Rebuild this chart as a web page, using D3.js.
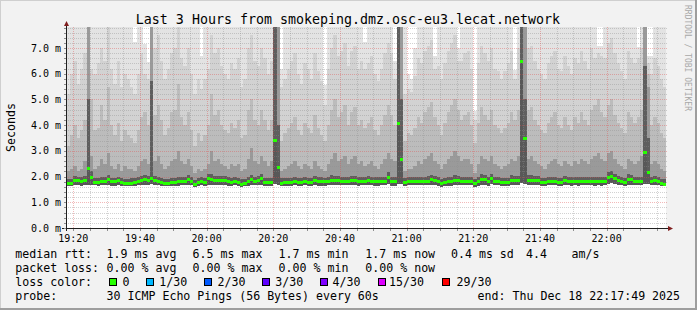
<!DOCTYPE html>
<html>
<head>
<meta charset="utf-8">
<script src="https://cdn.jsdelivr.net/npm/d3@7"></script>
<style>
  body { margin: 0; background: #fff; }
  svg text { font-family: "DejaVu Sans Mono", monospace; fill: #000; }
</style>
</head>
<body>
<div id="chart"></div>
<script>
// ---- data ----
const title = 'Last 3 Hours from smokeping.dmz.osc-eu3.lecat.network';
const startTime = new Date(2025, 11, 18, 19, 17, 49);
const endTime = new Date(2025, 11, 18, 22, 17, 49);
const firstStep = new Date(2025, 11, 18, 19, 18, 0);
const stepSeconds = 60;

// median rtt per minute (ms)
const median = [
  1.72,1.72,1.84,1.83,1.81,1.84,2.33,1.98,1.78,1.78,
  1.82,1.82,1.88,1.79,1.79,1.83,1.76,1.74,1.74,1.75,
  1.78,1.80,1.85,1.90,1.86,1.94,1.84,1.82,1.78,1.74,
  1.74,1.77,1.77,1.79,1.80,1.82,1.87,1.80,1.70,1.78,
  1.79,1.77,1.93,1.90,1.84,1.84,1.83,1.83,1.80,1.78,
  1.80,1.78,1.71,1.72,1.79,1.87,1.82,1.84,1.91,1.77,
  1.76,1.76,3.42,2.36,1.75,1.78,1.78,1.78,1.79,1.78,
  1.78,1.79,1.77,1.78,1.84,1.79,1.79,1.79,1.80,1.86,
  1.85,1.83,1.82,1.82,1.81,1.83,1.85,1.79,1.80,1.82,
  1.83,1.82,1.80,1.80,1.81,1.82,1.96,1.80,1.80,4.07,
  2.65,1.76,1.82,1.82,1.81,1.82,1.81,1.82,1.82,1.89,
  1.83,1.80,1.73,1.78,1.79,1.80,1.86,1.85,1.81,1.82,
  1.82,1.81,1.73,1.80,1.90,1.88,1.80,1.93,1.81,1.81,
  1.76,1.76,1.77,1.86,1.85,1.84,6.47,3.49,1.86,1.86,
  1.84,1.83,1.78,1.78,1.81,1.81,1.82,1.78,1.78,1.83,
  1.80,1.79,1.80,1.79,1.81,1.81,1.82,1.81,1.79,1.80,
  1.79,1.80,1.97,2.02,1.93,1.83,1.82,1.76,1.90,1.89,
  1.81,1.80,1.81,2.95,2.17,1.80,1.83,1.82,1.72,1.71
];

// smoke: fastest ping per minute (ms)
const pingMin = [
  1.64,1.63,1.66,1.66,1.65,1.67,1.68,1.67,1.66,1.65,
  1.66,1.66,1.68,1.65,1.65,1.66,1.64,1.63,1.63,1.64,
  1.65,1.66,1.67,1.69,1.68,1.70,1.67,1.66,1.65,1.63,
  1.63,1.64,1.64,1.65,1.66,1.66,1.68,1.66,1.61,1.65,
  1.66,1.65,1.69,1.69,1.67,1.67,1.66,1.66,1.65,1.65,
  1.66,1.65,1.61,1.62,1.65,1.68,1.66,1.67,1.69,1.64,
  1.64,1.64,1.70,1.68,1.63,1.65,1.65,1.65,1.66,1.65,
  1.65,1.66,1.64,1.65,1.67,1.65,1.65,1.65,1.66,1.68,
  1.68,1.67,1.66,1.66,1.66,1.67,1.68,1.65,1.66,1.66,
  1.67,1.66,1.65,1.65,1.66,1.66,1.70,1.65,1.65,1.72,
  1.70,1.64,1.66,1.66,1.66,1.66,1.66,1.66,1.66,1.69,
  1.67,1.65,1.61,1.64,1.65,1.65,1.68,1.68,1.66,1.66,
  1.66,1.66,1.61,1.65,1.69,1.68,1.65,1.70,1.66,1.66,
  1.64,1.64,1.64,1.68,1.68,1.67,1.75,1.72,1.68,1.68,
  1.67,1.67,1.65,1.65,1.66,1.66,1.66,1.65,1.65,1.67,
  1.66,1.65,1.66,1.65,1.66,1.66,1.66,1.66,1.65,1.66,
  1.65,1.66,1.72,1.74,1.70,1.67,1.66,1.64,1.69,1.69,
  1.66,1.66,1.66,1.72,1.70,1.66,1.67,1.66,1.62,1.62
];

// smoke: upper ping levels per minute (ms), from dense to sparse
const smokeQ1 = [
  1.90,1.90,2.02,2.00,1.98,2.03,5.00,2.20,1.95,1.96,
  2.00,2.00,2.06,1.96,1.96,2.00,1.93,1.91,1.92,1.93,
  1.95,1.98,2.03,2.08,2.04,5.70,2.02,2.00,1.96,1.92,
  1.92,1.95,1.95,1.98,1.98,2.00,2.05,1.98,1.88,1.96,
  1.97,1.95,2.12,2.10,2.02,2.02,2.01,2.01,1.98,1.96,
  1.98,1.96,1.89,1.90,1.97,2.06,2.00,2.02,2.10,1.95,
  1.94,1.95,8.00,4.00,1.93,1.96,1.96,1.96,1.97,1.96,
  1.96,1.97,1.95,1.96,2.02,1.97,1.97,1.96,1.98,2.05,
  2.04,2.01,2.00,2.00,1.99,2.01,2.04,1.97,1.98,2.00,
  2.01,2.00,1.98,1.98,1.99,2.00,2.16,1.99,1.98,8.00,
  5.00,1.94,2.00,2.00,1.99,2.00,1.99,2.00,2.01,2.08,
  2.01,1.98,1.91,1.96,1.98,1.99,2.05,2.04,1.99,2.00,
  2.00,1.99,1.91,1.98,2.09,2.07,1.98,2.12,1.99,1.99,
  1.94,1.94,1.95,2.05,2.04,2.03,8.00,5.00,2.05,2.05,
  2.02,2.01,1.96,1.96,1.99,1.99,2.00,1.96,1.96,2.01,
  1.98,1.97,1.98,1.97,1.99,1.99,2.00,1.99,1.97,1.98,
  1.97,1.98,2.16,2.21,2.12,2.01,2.00,1.94,2.09,2.08,
  1.99,1.98,2.00,6.30,3.50,1.98,2.01,2.00,1.90,1.89
];
const smokeQ2 = [
  2.2,2.3,2.4,2.2,2.3,2.6,8.0,2.8,2.3,2.4,
  2.7,2.5,2.9,2.4,2.3,2.5,2.2,2.4,2.3,2.3,
  2.2,2.4,2.6,2.7,2.5,8.0,2.6,2.8,2.5,2.3,
  2.4,2.6,2.7,3.0,2.6,2.5,2.7,2.4,2.15,2.3,
  2.2,2.3,2.5,3.0,2.6,2.7,2.5,2.4,2.3,2.5,
  2.4,2.5,2.2,2.3,2.7,3.1,2.6,2.5,2.8,2.6,
  2.4,2.6,8.0,8.0,2.2,2.3,2.4,2.5,2.6,2.4,
  2.3,2.5,2.4,2.3,2.6,2.4,2.3,2.2,2.5,2.7,
  2.9,2.6,2.7,2.8,2.5,2.7,2.8,2.5,2.6,2.4,
  2.5,2.6,2.4,2.3,2.5,2.7,2.9,2.7,2.6,8.0,
  8.0,2.2,2.3,2.3,2.4,2.6,2.5,2.7,2.8,2.9,
  2.6,2.5,2.3,2.5,2.7,2.8,3.0,2.8,2.6,2.7,
  2.7,2.5,2.15,2.5,2.8,2.7,2.6,2.8,2.5,2.4,
  2.3,2.4,2.5,2.7,2.6,2.8,8.0,8.0,2.7,2.8,
  2.6,2.5,2.4,2.3,2.5,2.6,2.7,2.5,2.4,2.6,
  2.5,2.4,2.6,2.5,2.7,2.6,2.5,2.7,2.8,2.9,
  2.7,2.6,2.9,3.0,2.7,2.5,2.4,2.3,2.7,2.6,
  2.5,2.6,2.8,8.0,5.5,2.5,2.6,2.5,2.3,2.2
];
const smokeQ3 = [
  3.2,3.6,4.0,3.5,3.8,4.2,8.0,5.0,3.8,3.9,
  4.8,4.2,5.5,4.0,3.6,4.1,3.4,3.8,3.6,3.5,
  3.3,3.8,4.3,4.5,4.0,8.0,4.4,4.8,4.2,3.6,
  3.9,4.5,4.6,5.6,4.3,4.0,4.5,3.8,3.2,3.7,
  3.4,3.6,4.0,5.2,4.4,4.6,4.0,3.8,3.7,4.1,
  3.9,4.2,3.5,3.6,4.6,5.0,4.2,4.0,4.6,4.2,
  3.8,4.2,8.0,8.0,3.4,3.7,3.9,4.1,4.3,3.8,
  3.6,4.1,3.9,3.7,4.4,3.9,3.6,3.4,4.0,4.6,
  5.0,4.3,4.5,4.8,4.0,4.5,4.7,4.0,4.2,3.9,
  4.1,4.3,3.8,3.6,4.0,4.4,4.8,4.4,4.0,8.0,
  8.0,3.4,3.7,3.6,3.9,4.3,4.1,4.5,4.7,4.9,
  4.3,4.0,3.6,4.1,4.5,4.8,5.0,4.6,4.2,4.4,
  4.5,4.0,3.3,4.1,4.7,4.4,4.2,4.6,4.0,3.9,
  3.7,3.9,4.1,4.5,4.2,4.6,8.0,8.0,4.6,4.7,
  4.2,4.0,3.8,3.7,4.1,4.3,4.5,4.0,3.9,4.3,
  4.0,3.8,4.3,4.1,4.5,4.2,4.0,4.6,4.8,5.0,
  4.5,4.3,4.8,5.0,4.4,4.1,3.9,3.7,4.5,4.3,
  4.1,4.3,4.6,8.0,6.0,4.0,4.3,4.1,3.7,3.5
];
const smokeQ4 = [
  5.2,6.0,6.5,5.6,6.2,6.8,8.0,6.2,6.0,6.4,
  7.0,6.5,7.9,6.2,5.6,6.5,5.5,6.0,5.8,5.5,
  5.2,6.0,6.8,6.0,5.8,8.0,7.0,7.5,6.5,5.8,
  6.2,6.8,7.0,7.9,6.6,6.3,7.0,6.0,5.2,5.8,
  5.4,5.8,6.2,7.5,6.8,7.0,6.3,6.0,5.8,6.4,
  6.2,6.6,5.5,5.8,7.0,7.5,6.5,6.3,7.0,6.6,
  6.0,6.5,8.0,8.0,5.5,5.8,6.2,6.5,6.8,6.0,
  5.6,6.4,6.2,5.8,6.8,6.1,5.7,4.8,6.2,7.0,
  7.5,6.7,6.9,7.2,6.3,6.9,7.1,6.2,6.5,6.2,
  6.4,6.7,6.0,5.7,6.2,6.8,7.2,6.8,5.8,8.0,
  8.0,5.2,5.4,5.3,5.9,6.6,6.4,6.9,7.1,7.3,
  6.2,6.3,5.8,6.4,6.9,7.2,7.5,6.5,6.5,6.8,
  6.9,6.2,4.2,6.4,7.1,6.8,6.5,7.0,6.2,6.1,
  5.8,6.1,6.4,6.9,5.8,7.0,8.0,8.0,7.0,7.1,
  6.5,6.2,6.0,5.8,6.4,6.7,6.9,6.2,6.1,6.7,
  6.3,6.0,6.6,6.4,6.9,6.5,6.2,7.0,6.6,6.8,
  6.7,6.6,7.2,7.4,6.8,6.4,6.1,5.8,6.9,6.6,
  6.4,6.6,7.0,8.0,6.4,6.0,6.6,6.3,5.8,5.5
];
// slowest ping per minute (ms); 8.5 = beyond the top of the graph
const pingMax = [
  8.5,8.5,8.5,8.5,8.5,8.5,8.5,8.5,8.5,8.5,
  8.5,8.5,8.5,8.5,8.5,8.5,8.5,8.5,8.5,8.5,
  7.25,8.5,8.5,7.15,6.45,8.5,8.5,8.5,8.5,8.5,
  8.5,8.5,8.5,8.5,8.5,8.5,8.5,8.5,8.5,8.5,
  6.7,8.5,8.5,8.5,8.5,8.5,8.5,8.5,8.5,8.5,
  8.5,8.5,8.5,8.5,8.5,8.5,8.5,8.5,8.5,8.5,
  8.5,8.5,8.5,8.5,6.2,8.5,8.5,8.5,8.5,8.5,
  8.5,8.5,8.5,8.5,8.5,8.5,8.5,5.55,8.5,8.5,
  8.5,8.5,8.5,8.5,8.5,8.5,8.5,8.5,8.5,7.25,
  8.5,8.5,8.5,8.5,8.5,8.5,8.5,8.5,6.5,8.5,
  8.5,8.5,6.0,5.8,7.0,8.5,8.5,8.5,8.5,8.5,
  6.7,8.5,8.5,8.5,8.5,8.5,8.5,7.0,8.5,8.5,
  8.5,8.5,4.55,8.5,8.5,8.5,8.5,8.5,8.5,8.5,
  8.5,8.5,8.5,8.5,6.15,8.5,8.5,8.5,8.5,8.5,
  8.5,8.5,8.5,8.5,8.5,8.5,8.5,8.5,8.5,8.5,
  8.5,8.5,8.5,8.5,8.5,8.5,8.5,8.5,8.5,7.1,
  7.1,8.5,8.5,8.5,8.5,8.5,8.5,8.5,8.5,8.5,
  8.5,7.05,8.5,8.5,6.7,6.7,8.5,8.5,8.5,8.5
];

const yTicks = [0, 1, 2, 3, 4, 5, 6, 7];
const yMax = 7.82;

const rttLabel = 'median rtt:';
const rttStats = ['1.9 ms avg', '6.5 ms max', '1.7 ms min', '1.7 ms now', '0.4 ms sd', '4.4', 'am/s'];
const lossLabel = 'packet loss:';
const lossStats = ['0.00 % avg', '0.00 % max', '0.00 % min', '0.00 % now'];
const lossColorLabel = 'loss color:';
const lossLabels = ['0', '1/30', '2/30', '3/30', '4/30', '15/30', '29/30'];
const lossColors = ['#26ff00', '#00b8ff', '#0059ff', '#5e00ff', '#7e00ff', '#dd00ff', '#ff0000'];
const probeLabel = 'probe:';
const probeText = '30 ICMP Echo Pings (56 Bytes) every 60s';
const endText = 'end: Thu Dec 18 22:17:49 2025';
const watermark = 'RRDTOOL / TOBI OETIKER';

// ---- drawing ----
const width = 697;
const height = 310;
const plot = {left: 66, right: 666, top: 27, bottom: 228};

const svg = d3.select('#chart')
  .append('svg')
  .attr('width', width)
  .attr('height', height);

// frame with rrdtool style shading
svg.append('rect').attr('width', width).attr('height', height).attr('fill', '#f2f2f2');
svg.append('path').attr('d', `M0,${height} V0 H${width}`).attr('fill', 'none')
  .attr('stroke', '#cfcfcf').attr('stroke-width', 2);
svg.append('path').attr('d', `M0,${height - 1} H${width - 1} V0`).attr('fill', 'none')
  .attr('stroke', '#9e9e9e').attr('stroke-width', 2);

const x = d3.scaleTime().domain([startTime, endTime]).range([plot.left, plot.right]);
const y = d3.scaleLinear().domain([0, yMax]).range([plot.bottom, plot.top]);

svg.append('rect')
  .attr('x', plot.left).attr('y', plot.top)
  .attr('width', plot.right - plot.left).attr('height', plot.bottom - plot.top)
  .attr('fill', '#ffffff');

svg.append('clipPath').attr('id', 'plot-clip')
  .append('rect')
  .attr('x', plot.left + 1).attr('y', plot.top)
  .attr('width', plot.right - plot.left - 1).attr('height', plot.bottom - plot.top);

const columns = median.map((m, k) => ({
  t0: new Date(+firstStep + k * stepSeconds * 1000),
  t1: new Date(+firstStep + (k + 1) * stepSeconds * 1000),
  levels: [pingMin[k], m, smokeQ1[k], smokeQ2[k], smokeQ3[k], smokeQ4[k], pingMax[k]],
  median: m
}));

// smokeping shades: darkest next to the median, lighter for the outliers
const bandColors = ['#585858', '#5e5e5e', '#9a9a9a', '#bcbcbc', '#d2d2d2', '#e3e3e3'];

const smoke = svg.append('g').attr('clip-path', 'url(#plot-clip)').attr('shape-rendering', 'crispEdges');
const col = smoke.selectAll('g.col')
  .data(columns)
  .enter().append('g')
  .attr('class', 'col');

col.selectAll('rect')
  .data(function (d) {
    return bandColors.map((c, i) => ({t0: d.t0, t1: d.t1, lo: d.levels[i], hi: d.levels[i + 1], color: c}));
  })
  .enter().append('rect')
  .attr('x', d => x(d.t0))
  .attr('width', d => x(d.t1) - x(d.t0))
  .attr('y', d => y(d.hi))
  .attr('height', d => Math.max(0, y(d.lo) - y(d.hi)))
  .attr('fill', d => d.color);

// grid
const grid = svg.append('g').attr('fill', 'none').attr('stroke-dasharray', '1,1');
const minorY = d3.range(0, yMax, 0.2).filter(v => Math.abs(v - Math.round(v)) > 0.01);
grid.selectAll('line.ymin')
  .data(minorY)
  .enter().append('line')
  .attr('x1', plot.left).attr('x2', plot.right + 2)
  .attr('y1', d => Math.round(y(d)) + 0.5).attr('y2', d => Math.round(y(d)) + 0.5)
  .attr('stroke', 'rgba(143,143,143,0.4)');

const minorX = d3.timeMinute.every(5).range(startTime, endTime).filter(t => t.getMinutes() % 20 !== 0);
grid.selectAll('line.xmin')
  .data(minorX)
  .enter().append('line')
  .attr('x1', d => Math.round(x(d)) + 0.5).attr('x2', d => Math.round(x(d)) + 0.5)
  .attr('y1', plot.top).attr('y2', plot.bottom)
  .attr('stroke', 'rgba(143,143,143,0.4)');

grid.selectAll('line.ymaj')
  .data(yTicks.filter(v => v > 0))
  .enter().append('line')
  .attr('x1', plot.left).attr('x2', plot.right + 2)
  .attr('y1', d => Math.round(y(d)) + 0.5).attr('y2', d => Math.round(y(d)) + 0.5)
  .attr('stroke', 'rgba(222,79,79,0.4)');

const majorX = d3.timeMinute.every(20).range(startTime, endTime);
grid.selectAll('line.xmaj')
  .data(majorX)
  .enter().append('line')
  .attr('x1', d => Math.round(x(d)) + 0.5).attr('x2', d => Math.round(x(d)) + 0.5)
  .attr('y1', plot.top).attr('y2', plot.bottom)
  .attr('stroke', 'rgba(222,79,79,0.4)');

// median line, one short bar per step
svg.append('g').attr('clip-path', 'url(#plot-clip)').attr('shape-rendering', 'crispEdges')
  .selectAll('rect')
  .data(columns)
  .enter().append('rect')
  .attr('x', d => x(d.t0))
  .attr('width', d => x(d.t1) - x(d.t0))
  .attr('y', d => y(d.median) - 1.5)
  .attr('height', 3)
  .attr('fill', lossColors[0]);

// axes
const axis = svg.append('g').attr('stroke', '#1f1f1f').attr('shape-rendering', 'crispEdges');
axis.append('line').attr('x1', plot.left + 0.5).attr('x2', plot.left + 0.5)
  .attr('y1', plot.bottom + 3).attr('y2', plot.top - 5);
axis.append('line').attr('x1', plot.left - 4).attr('x2', plot.right + 4)
  .attr('y1', plot.bottom + 0.5).attr('y2', plot.bottom + 0.5);
axis.selectAll('line.yt')
  .data(d3.range(0, yMax, 0.2))
  .enter().append('line')
  .attr('x1', plot.left - 2).attr('x2', plot.left)
  .attr('y1', d => Math.round(y(d)) + 0.5).attr('y2', d => Math.round(y(d)) + 0.5)
  .attr('stroke', '#8f8f8f');
axis.selectAll('line.xt')
  .data(d3.timeMinute.every(5).range(startTime, endTime))
  .enter().append('line')
  .attr('x1', d => Math.round(x(d)) + 0.5).attr('x2', d => Math.round(x(d)) + 0.5)
  .attr('y1', plot.bottom + 1).attr('y2', plot.bottom + 3)
  .attr('stroke', '#8f8f8f');

svg.append('path')
  .attr('d', `M${plot.left - 2},${plot.top - 1} L${plot.left + 3},${plot.top - 1} L${plot.left + 0.5},${plot.top - 6} Z`)
  .attr('fill', '#801f1f');
svg.append('path')
  .attr('d', `M${plot.right + 2},${plot.bottom - 2} L${plot.right + 2},${plot.bottom + 3} L${plot.right + 7},${plot.bottom + 0.5} Z`)
  .attr('fill', '#801f1f');

// tick labels
svg.append('g').selectAll('text')
  .data(yTicks)
  .enter().append('text')
  .attr('x', 61)
  .attr('y', d => y(d) + 3.6)
  .attr('text-anchor', 'end')
  .attr('font-size', 10)
  .text(d => d3.format('.1f')(d) + ' m');

const timeFmt = d3.timeFormat('%H:%M');
svg.append('g').selectAll('text')
  .data(majorX)
  .enter().append('text')
  .attr('x', d => x(d))
  .attr('y', 241.5)
  .attr('text-anchor', 'middle')
  .attr('font-size', 10)
  .text(d => timeFmt(d));

// titles
svg.append('text')
  .attr('x', 348).attr('y', 24)
  .attr('text-anchor', 'middle')
  .attr('font-size', 13.3)
  .text(title);

svg.append('text')
  .attr('transform', 'translate(15,127.5) rotate(-90)')
  .attr('text-anchor', 'middle')
  .attr('font-size', 11.6)
  .text('Seconds');

svg.append('text')
  .attr('transform', 'translate(685,5) rotate(90)')
  .attr('font-size', 8)
  .style('fill', '#a8a8a8')
  .text(watermark);

// legend
const legend = svg.append('g').attr('font-size', 11.6).attr('xml:space', 'preserve');
const rowY = [257.5, 271.6, 285.7, 299.8];
const statX = [106.6, 192.6, 278.6, 365.3, 451, 526, 571.6];

function put(xp, yp, s) {
  legend.append('text').attr('x', xp).attr('y', yp).text(s);
}

put(15.3, rowY[0], rttLabel);
rttStats.forEach((s, i) => put(statX[i], rowY[0], s));
put(15.3, rowY[1], lossLabel);
lossStats.forEach((s, i) => put(statX[i], rowY[1], s));

put(15.3, rowY[2], lossColorLabel);
const boxX = [109, 146, 204, 261.7, 320, 377.7, 441.7];
const boxLabelX = [122.6, 159.3, 217.6, 275.3, 332.6, 389, 456.6];
lossLabels.forEach((s, i) => {
  legend.append('rect')
    .attr('x', Math.round(boxX[i]) + 0.5).attr('y', 278.5)
    .attr('width', 7).attr('height', 7)
    .attr('fill', lossColors[i])
    .attr('stroke', '#000');
  put(boxLabelX[i], rowY[2], s);
});

put(15.3, rowY[3], probeLabel);
put(106.6, rowY[3], probeText);
put(477.6, rowY[3], endText);
</script>
</body>
</html>
